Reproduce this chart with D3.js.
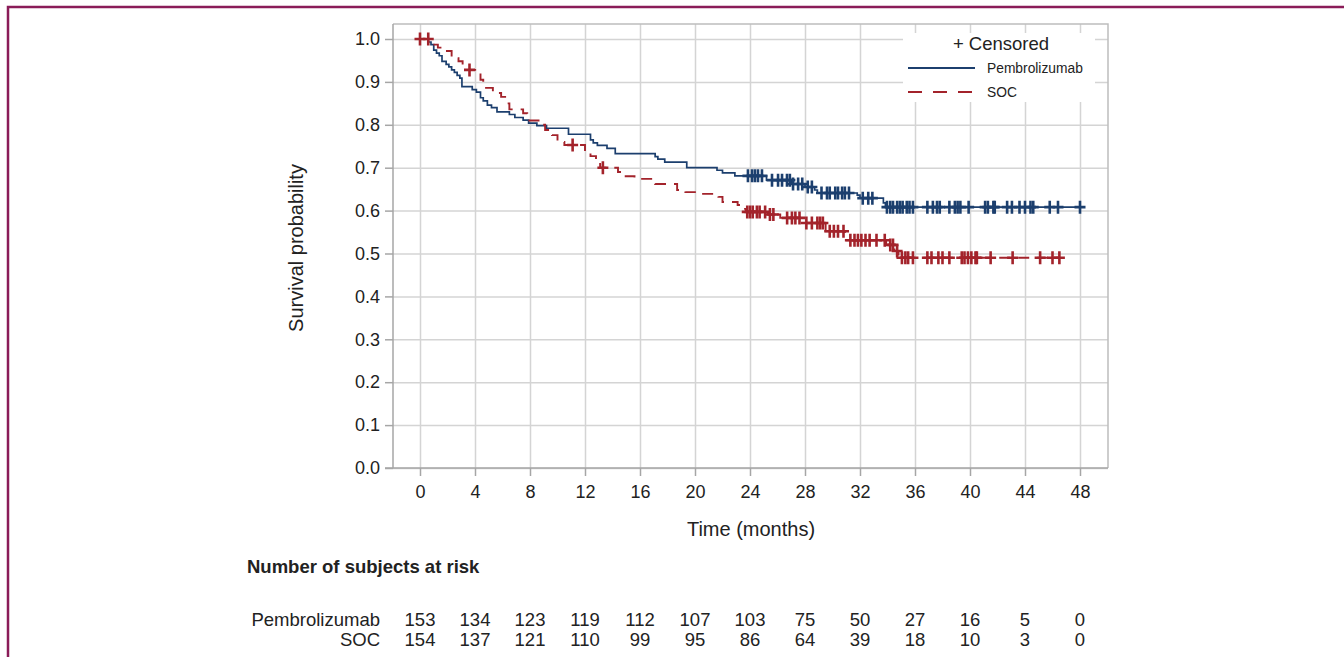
<!DOCTYPE html>
<html>
<head>
<meta charset="utf-8">
<script src="https://cdn.jsdelivr.net/npm/d3@7"></script>
<style>
  body { margin: 0; background: #fff; }
  text { font-family: "Liberation Sans", Arial, sans-serif; fill: #222; }
  .eixo path, .eixo line { stroke: #a6a6a6; stroke-width: 1.5; }
  .grade line { stroke: #d4d4d4; stroke-width: 1.5; }
  .grade path { stroke: none; }
</style>
</head>
<body>
<svg id="grafico"></svg>
<script>
// passos da curva de Kaplan-Meier: [tempo, sobrevida após o evento]
const passosPembro = [[0.6,.993],[0.8,.987],[1.0,.974],[1.2,.967],[1.4,.961],[1.6,.948],[1.9,.941],[2.1,.935],[2.3,.928],[2.5,.922],[2.7,.915],[2.9,.909],[3.05,.889],[3.8,.882],[4.1,.876],[4.4,.863],[4.6,.856],[4.9,.846],[5.2,.84],[5.6,.83],[6.5,.824],[6.9,.817],[7.5,.811],[7.9,.804],[8.5,.798],[9.2,.792],[10.8,.778],[12.4,.765],[12.6,.758],[12.9,.752],[13.6,.745],[14.2,.733],[17.1,.726],[17.3,.72],[17.8,.713],[19.4,.70],[21.6,.694],[22.0,.688],[22.9,.681],[25.2,.671],[27.0,.662],[28.0,.655],[28.7,.648],[28.9,.641],[31.8,.636],[32.0,.629],[33.7,.618],[33.85,.608]];
const censuraPembro = [23.85,24.15,24.36,24.58,24.87,25.6,26.04,26.33,26.69,26.9,27.13,27.5,27.8,28.2,28.5,29.2,29.6,29.8,30.2,30.4,30.7,30.9,31.2,32.2,32.6,32.9,33.96,34.2,34.4,34.7,34.9,35.1,35.4,35.6,35.85,36.9,37.3,37.6,37.8,38.5,38.9,39.1,39.3,39.9,41.1,41.3,41.7,41.8,42.7,43.05,43.6,44.0,44.4,44.6,45.8,46.4,48.0];
const fimPembro = 48;

const passosSOC = [[0.9,.987],[1.3,.98],[1.8,.972],[2.3,.955],[2.8,.948],[3.1,.935],[3.3,.928],[4.4,.905],[4.6,.886],[5.3,.874],[5.9,.865],[6.3,.85],[6.5,.836],[7.5,.827],[7.8,.81],[8.7,.8],[9.1,.788],[9.6,.776],[10.0,.76],[10.5,.753],[12.0,.734],[12.4,.727],[12.8,.714],[13.1,.70],[14.4,.69],[14.7,.68],[15.6,.674],[17.1,.662],[18.7,.648],[19.3,.643],[20.2,.639],[21.7,.632],[22.0,.62],[23.1,.613],[23.4,.604],[23.7,.597],[25.3,.591],[26.2,.583],[27.9,.571],[29.5,.552],[30.9,.531],[33.9,.52],[34.5,.506],[34.8,.49]];
const censuraSOC = [0,0.6,3.6,11.1,13.3,23.8,24.0,24.2,24.5,24.7,25.1,25.45,25.7,26.7,27.05,27.3,27.6,28.1,28.5,28.9,29.1,29.3,29.8,30.1,30.4,30.8,31.3,31.6,31.85,32.1,32.4,32.7,33.2,33.8,34.2,34.4,34.7,35.05,35.3,35.5,35.85,36.9,37.2,37.7,38.0,38.5,39.4,39.6,39.85,40.1,40.4,40.5,41.5,43.1,45.1,46.0,46.5];
const fimSOC = 46.5;

const temposRisco = [0,4,8,12,16,20,24,28,32,36,40,44,48];
const riscoPembro = [153,134,123,119,112,107,103,75,50,27,16,5,0];
const riscoSOC = [154,137,121,110,99,95,86,64,39,18,10,3,0];
const ticksY = [0,0.1,0.2,0.3,0.4,0.5,0.6,0.7,0.8,0.9,1.0];

const corPembro = '#1c3f6e';
const corSOC = '#a3232b';

const svg = d3.select('#grafico').attr('width', 1344).attr('height', 657);

// moldura externa
svg.append('rect').attr('x', 8).attr('y', 7).attr('width', 1400).attr('height', 700)
  .attr('fill', 'none').attr('stroke', '#8a1c58').attr('stroke-width', 2.5);

const area = { esquerda: 393, direita: 1108, superior: 24, inferior: 468 };

const x = d3.scaleLinear().domain([0, 48]).range([420, 1080]);
const y = d3.scaleLinear().domain([0, 1]).range([468, 39]);

// grade
svg.append('g').classed('grade', true)
  .attr('transform', `translate(0, ${area.inferior})`)
  .call(d3.axisBottom(x).tickValues(temposRisco).tickSize(-(area.inferior - area.superior)).tickFormat(''));
svg.append('g').classed('grade', true)
  .attr('transform', `translate(${area.esquerda}, 0)`)
  .call(d3.axisLeft(y).tickValues(ticksY).tickSize(-(area.direita - area.esquerda)).tickFormat(''));

// bordas superior e direita
svg.append('path')
  .attr('d', `M${area.esquerda},${area.superior}H${area.direita}V${area.inferior}`)
  .attr('fill', 'none').attr('stroke', '#bdbdbd').attr('stroke-width', 1.5);

// eixos
const eixoX = svg.append('g').classed('eixo', true)
  .attr('transform', `translate(0, ${area.inferior})`)
  .call(d3.axisBottom(x).tickValues(temposRisco).tickSize(8).tickPadding(9).tickSizeOuter(0));
eixoX.select('.domain').attr('d', `M${area.esquerda - 8},0H${area.direita}`);
eixoX.selectAll('text').style('font-size', '18px').attr('fill', '#222');

const eixoY = svg.append('g').classed('eixo', true)
  .attr('transform', `translate(${area.esquerda}, 0)`)
  .call(d3.axisLeft(y).tickValues(ticksY).tickSize(8).tickPadding(5).tickFormat(d3.format('.1f')).tickSizeOuter(0));
eixoY.select('.domain').attr('d', `M0,${area.superior}V${area.inferior}`);
eixoY.selectAll('text').style('font-size', '18px').attr('fill', '#222');

svg.append('text').attr('x', 751).attr('y', 536).attr('text-anchor', 'middle')
  .style('font-size', '20px').text('Time (months)');
svg.append('text').attr('transform', 'translate(303, 248) rotate(-90)').attr('text-anchor', 'middle')
  .style('font-size', '20px').text('Survival probability');

// curvas
function sobrevida(passos, t) {
  let s = 1;
  passos.forEach(p => { if (p[0] <= t) s = p[1]; });
  return s;
}

function curva(passos, fim, censuras, cor, tracejado, espessura) {
  const pontos = [[0, 1]].concat(passos);
  pontos.push([fim, passos[passos.length - 1][1]]);
  const linha = d3.line().x(d => x(d[0])).y(d => y(d[1])).curve(d3.curveStepAfter);
  svg.append('path').datum(pontos)
    .attr('d', linha)
    .attr('fill', 'none')
    .attr('stroke', cor)
    .attr('stroke-width', espessura)
    .attr('stroke-dasharray', tracejado);

  svg.selectAll(null)
    .data(censuras)
    .enter()
    .append('path')
    .attr('d', d => {
      const cx = x(d), cy = y(sobrevida(passos, d));
      return `M${cx - 5.5},${cy}H${cx + 5.5}M${cx},${cy - 6.5}V${cy + 6.5}`;
    })
    .attr('stroke', cor)
    .attr('stroke-width', 2.6)
    .attr('fill', 'none');
}

curva(passosPembro, fimPembro, censuraPembro, corPembro, null, 1.7);
curva(passosSOC, fimSOC, censuraSOC, corSOC, '11,8', 1.9);

// legenda
const legenda = svg.append('g');
legenda.append('rect').attr('x', 903).attr('y', 33).attr('width', 192).attr('height', 69).attr('fill', '#fff');
legenda.append('text').attr('x', 1001).attr('y', 50).attr('text-anchor', 'middle')
  .style('font-size', '18.5px').text('+ Censored');
const itens = [
  { nome: 'Pembrolizumab', cor: corPembro, tracejado: null, yy: 68 },
  { nome: 'SOC', cor: corSOC, tracejado: '14,11', yy: 92 }
];
itens.forEach(it => {
  legenda.append('line').attr('x1', 908).attr('x2', 975).attr('y1', it.yy).attr('y2', it.yy)
    .attr('stroke', it.cor).attr('stroke-width', 1.8).attr('stroke-dasharray', it.tracejado);
  legenda.append('text').attr('x', 987).attr('y', it.yy + 5)
    .style('font-size', '13.8px').text(it.nome);
});

// tabela de pacientes em risco
svg.append('text').attr('x', 247).attr('y', 573)
  .style('font-size', '18.5px').style('font-weight', 'bold').text('Number of subjects at risk');

const linhas = [
  { nome: 'Pembrolizumab', valores: riscoPembro, yy: 626 },
  { nome: 'SOC', valores: riscoSOC, yy: 646 }
];
linhas.forEach(l => {
  svg.append('text').attr('x', 380).attr('y', l.yy).attr('text-anchor', 'end')
    .style('font-size', '18.5px').text(l.nome);
  svg.selectAll(null)
    .data(l.valores)
    .enter()
    .append('text')
    .attr('x', (d, i) => x(temposRisco[i]))
    .attr('y', l.yy)
    .attr('text-anchor', 'middle')
    .style('font-size', '18.5px')
    .text(d => d);
});
</script>
</body>
</html>
